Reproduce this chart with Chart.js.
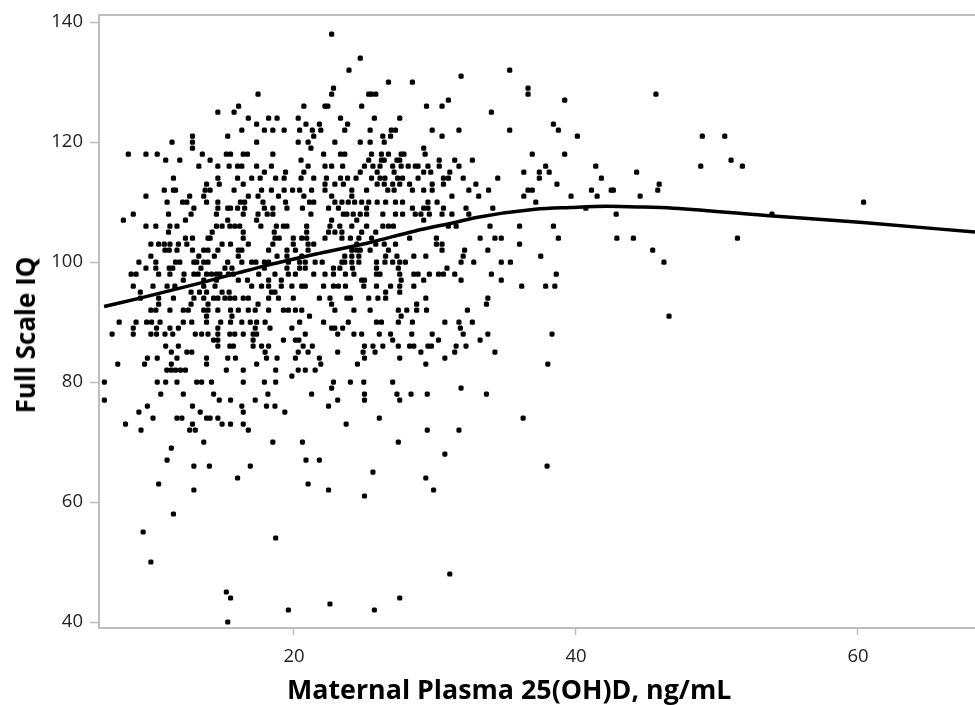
<!DOCTYPE html>
<html>
<head>
<meta charset="utf-8">
<script src="https://cdn.jsdelivr.net/npm/chart.js@4"></script>
<style>
  html, body { margin: 0; padding: 0; background: #fff; }
  #wrap { position: relative; width: 975px; height: 705px; overflow: hidden; }
  canvas { display: block; }
  .axis-title { position: absolute; font-family: "Open Sans", sans-serif; font-weight: 700; color: #000; white-space: nowrap; }
  #xTitle { left: 287px; top: 672px; font-size: 26.8px; line-height: 34px; }
  #yTitle { left: 25px; top: 335px; font-size: 26px; line-height: 28px; transform: translate(-50%, -50%) rotate(-90deg); }
</style>
</head>
<body>
<div id="wrap">
  <canvas id="chart" width="975" height="705"></canvas>
  <div class="axis-title" id="xTitle">Maternal Plasma 25(OH)D, ng/mL</div>
  <div class="axis-title" id="yTitle">Full Scale IQ</div>
</div>
<script>
// Axis ticks
const xTicks = [20, 40, 60];
const yTicks = [40, 60, 80, 100, 120, 140];

// Scatter: one row of 25(OH)D values per IQ score
const iqLevels = [138, 134, 132, 131, 130, 129, 128, 127, 126, 125, 124, 123, 122, 121, 120, 119, 118, 117, 116, 115, 114, 113, 112, 111, 110, 109, 108, 107, 106, 105, 104, 103, 102, 101, 100, 99, 98, 97, 96, 95, 94, 93, 92, 91, 90, 89, 88, 87, 86, 85, 84, 83, 82, 81, 80, 79, 78, 77, 76, 75, 74, 73, 72, 70, 69, 68, 67, 66, 65, 64, 63, 62, 61, 58, 55, 54, 50, 48, 45, 44, 43, 42, 40];
const vitdByIq = [
  [22.67],
  [24.7],
  [23.9, 35.3],
  [31.85],
  [26.7, 28.4],
  [22.8, 36.6],
  [17.45, 22.67, 25.3, 25.5, 25.8, 36.6, 45.67],
  [30.95, 39.2],
  [16.07, 20.7, 22.2, 22.4, 24.8, 29.4, 30.5],
  [14.6, 15.75, 34],
  [16.76, 18.2, 18.8, 20.3, 23.3, 25.7, 27.5],
  [17.35, 20.85, 21.8, 23.8, 38.4],
  [16.3, 17.9, 18.5, 19.3, 20.4, 21.3, 21.9, 23.6, 25.4, 26.9, 27.2, 29.8, 31.7, 35.3, 38.75],
  [12.8, 15.3, 21.4, 26.3, 26.85, 30.5, 40.1, 48.96, 50.55],
  [11.35, 12.8, 17.35, 20.3, 21, 22.9, 24.7, 25.4, 26.4],
  [12.8, 21.2, 29.2],
  [8.25, 9.5, 10.3, 13.5, 15.2, 15.5, 16.4, 16.7, 18.5, 22.1, 23.3, 23.6, 25.5, 26.2, 26.7, 27.6, 27.8, 29.3, 36.9, 39.2],
  [10.9, 11.9, 14.05, 20.5, 25.3, 26.2, 26.4, 27.3, 27.5, 30.3, 31.4, 32.65, 51],
  [13.25, 14.6, 15.4, 16, 16.3, 17.35, 18.4, 21, 22.2, 22.67, 23.45, 25, 25.6, 26.1, 27, 27.6, 28.1, 28.6, 28.8, 29.5, 30.3, 31.7, 37.85, 41.4, 48.85, 51.8],
  [17.9, 19.4, 20.7, 24.7, 25.9, 27.1, 29.2, 29.7, 31.05, 36.3, 37.4, 38.1, 44.3],
  [11.45, 14.6, 16, 17, 17.6, 18.7, 19.3, 20.5, 21.4, 22.3, 23.3, 23.8, 24.4, 25.5, 26.1, 26.45, 27.35, 27.7, 28.8, 30.6, 30.95, 32, 34.45, 37.4, 41.8],
  [13.8, 14.7, 16.4, 22.2, 22.9, 23.5, 25.9, 26.4, 27, 27.5, 28.2, 29.8, 30.6, 32.9, 38.65, 45.9],
  [10.8, 11.45, 11.6, 13.7, 14.05, 15.75, 17.7, 18.4, 19.3, 19.9, 20.4, 21.25, 22.2, 24.1, 25.15, 26.65, 27.1, 28.4, 29.2, 29.8, 32.4, 33.8, 36.6, 36.9, 41.1, 42.5, 42.65, 45.8],
  [9.5, 12.6, 13.6, 16.76, 17.45, 18.9, 20.7, 22.67, 24.1, 31.2, 33.1, 36.3, 39.65, 41.5, 44.55],
  [11, 12.1, 12.4, 13.8, 14.6, 16.2, 16.5, 17.8, 19.4, 21.1, 21.4, 22.9, 23.4, 23.85, 24.3, 24.8, 25.3, 25.9, 26.5, 27.2, 27.7, 29.5, 30.15, 37.15, 60.4],
  [12.9, 14.6, 15.3, 15.5, 16, 16.5, 17.9, 18.5, 19.5, 20.6, 22.45, 23.15, 25.15, 28.4, 29.2, 29.5, 30.6, 32.2, 34.1, 40.7],
  [8.6, 11.1, 12.7, 14.5, 16.4, 17.45, 18.1, 18.5, 21.2, 23.5, 23.75, 24.2, 24.7, 25.15, 26.3, 27.2, 27.7, 28.6, 29, 29.6, 30.5, 31.2, 32.4, 42.85, 53.9],
  [7.9, 12.3, 15.3, 17.35, 22.67, 24.45, 29.2],
  [9.5, 10.2, 11.2, 11.7, 14.5, 14.9, 15.45, 15.8, 16.15, 17.65, 18.75, 19.25, 19.5, 20.9, 22.55, 23.25, 24.1, 25.15, 26.3, 26.7, 27.05, 30.95, 31.5, 33.9, 36, 38.4],
  [11.1, 14.2, 16.4, 18.6, 20.9, 22.45, 22.9, 23.4, 24.8, 25.8],
  [12.3, 12.8, 13.9, 14.05, 16.4, 18.65, 18.95, 19.95, 20.55, 20.9, 22.2, 23.4, 24, 24.6, 25.5, 28.2, 30.1, 33.2, 34.25, 34.7, 38.75, 42.9, 44.07, 51.45],
  [9.85, 10.4, 10.8, 11.2, 11.8, 12.4, 14.9, 15.5, 16.76, 18.5, 19.95, 21, 21.4, 24.45, 25.8, 26.4, 27.2, 30.1, 30.5, 36],
  [10.85, 11.15, 11.7, 12.8, 13.6, 13.9, 14.6, 16.05, 16.3, 18.2, 19.5, 20.1, 21, 24.1, 24.45, 24.7, 25.4, 26.7, 30.5, 32.1, 33.75, 45.44],
  [9.85, 13.25, 14.35, 16.05, 18.8, 19.5, 20.55, 23.6, 24.1, 24.6, 26.5, 27.3, 28.5, 29.35, 32, 37.5],
  [9, 10.2, 11.6, 11.9, 12.9, 13.1, 13.6, 13.9, 15.3, 16.3, 17, 17.3, 17.9, 18.2, 19.6, 20.4, 20.8, 21.5, 22, 23.4, 23.6, 24.1, 24.6, 25.85, 26.45, 27, 27.5, 27.9, 31.85, 32.75, 34.7, 35.35, 46.24],
  [9.5, 10.2, 11.15, 11.4, 13.4, 15.1, 15.6, 17.9, 19.5, 20.4, 20.8, 22.8, 23.25, 24.15, 25.85, 27.4, 30.85],
  [8.45, 8.8, 10.4, 11.2, 12.2, 12.9, 13.2, 13.8, 14.15, 14.5, 14.75, 15.35, 15.7, 17.5, 18.65, 19.6, 20.1, 21.4, 22.2, 22.8, 23.65, 24.25, 25.85, 26.1, 27.5, 28.5, 28.8, 29.6, 30.25, 30.6, 31.4, 34, 38.6],
  [12.15, 13.6, 14.5, 16.05, 16.7, 18.2, 19.1, 24.8, 25, 27.6, 29.2, 31.85, 34.7],
  [8.6, 10, 11, 11.55, 13.6, 14.4, 17, 17.7, 18.2, 19.1, 19.85, 20.55, 20.8, 22.1, 22.8, 23.15, 23.65, 24.95, 25.85, 26.85, 27.5, 28.5, 36.15, 37.85, 38.5],
  [9.1, 12.7, 13.3, 13.8, 14.9, 15.4, 18.4, 18.65, 26.5, 27.5],
  [9.1, 10.4, 11.45, 12.9, 13.6, 14.3, 14.6, 15.1, 15.45, 15.8, 16.4, 16.76, 18.2, 18.9, 19.95, 21.8, 22.55, 23.75, 24, 25.3, 25.95, 26.5, 29.35, 33.75],
  [10.4, 12.7, 13.9, 17.45, 22.67, 28.7, 33.65],
  [9.85, 10.2, 11.2, 12.15, 12.5, 13.6, 13.9, 14.6, 15.5, 16.05, 16.76, 17.25, 18.2, 19.25, 19.6, 20.1, 20.55, 22.9, 24.25, 25.4, 27.4, 28, 28.7, 29.4, 32.3],
  [13.8, 15.6, 21.1, 27.6, 46.6],
  [7.6, 8.8, 9.55, 9.9, 10.5, 12.15, 12.75, 13.8, 14.8, 15.5, 16.3, 16.9, 17.35, 17.95, 20.4, 22.1, 23.85, 25.85, 26.2, 27.4, 28.4, 30.7, 31.7, 32.65],
  [8.6, 10.25, 11.2, 11.8, 14.6, 17.25, 18.3, 19.85, 22.67, 22.9, 23.45, 31.8],
  [7.1, 8.6, 9.85, 10.25, 10.85, 11.4, 13, 13.45, 13.9, 14.6, 15.45, 15.8, 16.4, 17.1, 17.35, 20.8, 23.1, 24.25, 24.8, 26.05, 26.85, 28.35, 29.8, 32, 33.75, 38.3],
  [14.3, 14.6, 17.1, 19.25, 20.1, 20.35, 27, 30.25, 33.2],
  [10.9, 11.8, 14.6, 15.45, 15.7, 17.1, 17.7, 18.2, 20.65, 21.3, 25, 25.6, 26.3, 27.4, 28.2, 28.5, 29.5, 29.75, 31.5, 32.2],
  [11.3, 12.4, 12.75, 17.95, 20.3, 21, 23.1, 24.9, 25.75, 29, 31.4, 34.25],
  [9.6, 10.3, 11.7, 13.8, 15.3, 15.85, 18.05, 18.8, 20.1, 21.8, 25, 27.5, 30.7],
  [7.5, 9.4, 11.3, 13.8, 17.35, 21.9, 24.5, 29.35, 38],
  [10.98, 11.3, 11.6, 11.95, 12.3, 15.2, 16.4, 18.7, 20.3, 20.8, 21.5],
  [19.85],
  [6.55, 10.3, 10.9, 11.7, 13.1, 13.45, 14.15, 16.4, 17.9, 18.7, 22.8, 24, 24.95, 27],
  [22.67, 31.85],
  [10.55, 12.15, 14.3, 18.15, 21.25, 25, 27.3, 28.3, 29.45, 33.65],
  [6.55, 14.7, 15.5, 17.25, 23.1, 25, 27.5],
  [9.6, 12.8, 16.3, 18.05, 18.65, 22.45],
  [9, 13.35, 16.4, 19.35],
  [10, 11.7, 12.05, 13.8, 14.05, 14.6, 26.05, 36.25],
  [8.05, 12.8, 14.9, 15.5, 16.4, 23.7],
  [9.15, 12.6, 13, 16.76, 29.45, 31.7],
  [13.6, 18.5, 20.6, 27.4],
  [11.3],
  [30.7],
  [11, 20.85, 21.8],
  [12.9, 14, 16.9, 37.95],
  [25.6],
  [16, 29.35],
  [10.4, 21],
  [12.9, 22.45, 29.9],
  [25],
  [11.45],
  [9.3],
  [18.7],
  [9.85],
  [31.05],
  [15.2],
  [15.5, 27.5],
  [22.55],
  [19.6, 25.7],
  [15.3]
];

// Fitted curve
const curveX = [6.53, 9.08, 13.33, 16.03, 18.16, 21.49, 25.25, 28.6, 31.56, 32.84, 37.1, 39.6, 42.2, 44.5, 46.9, 53.97, 60.35, 68.3];
const curveY = [92.6, 94, 96.5, 98.2, 99.5, 101.3, 103.2, 105.2, 106.7, 107.4, 108.8, 109.1, 109.3, 109.2, 109, 107.7, 106.6, 105];

const scatterPoints = [];
iqLevels.forEach((iq, i) => {
  vitdByIq[i].forEach((v) => scatterPoints.push({ x: v, y: iq }));
});
const curvePoints = curveX.map((v, i) => ({ x: v, y: curveY[i] }));

const axisGray = "#bdbdbd";
const tickFont = { family: "'Open Sans', sans-serif", size: 18.5 };

new Chart(document.getElementById("chart").getContext("2d"), {
  type: "scatter",
  data: {
    datasets: [
      {
        label: "Participants",
        data: scatterPoints,
        pointStyle: "rectRounded",
        pointRadius: 3,
        backgroundColor: "#000",
        borderWidth: 0,
      },
      {
        label: "Fit",
        data: curvePoints,
        showLine: true,
        borderColor: "#000",
        borderWidth: 3.5,
        pointRadius: 0,
        cubicInterpolationMode: "monotone",
      },
    ],
  },
  options: {
    responsive: false,
    animation: false,
    // autoPadding would pull the plot in from the right edge
    layout: { autoPadding: false, padding: { top: 15, left: 0, right: 0, bottom: 0 } },
    plugins: { legend: { display: false }, tooltip: { enabled: false } },
    scales: {
      x: {
        type: "linear",
        min: 6.17,
        max: 68.3,
        afterBuildTicks: (axis) => {
          axis.ticks = xTicks.map((v) => ({ value: v }));
        },
        // labels sit well inside the plot, so no edge padding is needed
        afterFit: (axis) => {
          axis.height = 77;
          axis.paddingLeft = 0;
          axis.paddingRight = 0;
        },
        grid: { display: true, drawOnChartArea: false, color: axisGray, tickLength: 7, tickWidth: 1.5 },
        border: { color: axisGray, width: 2 },
        ticks: { color: "#222", font: tickFont, padding: 11, maxRotation: 0, autoSkip: false },
      },
      xTop: {
        type: "linear",
        position: "top",
        min: 6.17,
        max: 68.3,
        afterFit: (axis) => {
          axis.height = 0;
          axis.paddingLeft = 0;
          axis.paddingRight = 0;
        },
        grid: { display: true, drawOnChartArea: false, drawTicks: false },
        border: { color: axisGray, width: 2 },
        ticks: { display: false },
      },
      y: {
        type: "linear",
        min: 39,
        max: 141.2,
        afterBuildTicks: (axis) => {
          axis.ticks = yTicks.map((v) => ({ value: v }));
        },
        afterFit: (axis) => {
          axis.width = 99;
          axis.paddingTop = 0;
          axis.paddingBottom = 0;
        },
        grid: { display: true, drawOnChartArea: false, color: axisGray, tickLength: 9, tickWidth: 1.5 },
        border: { color: axisGray, width: 2 },
        ticks: { color: "#222", font: tickFont, padding: 7, autoSkip: false },
      },
    },
  },
});
</script>
</body>
</html>
